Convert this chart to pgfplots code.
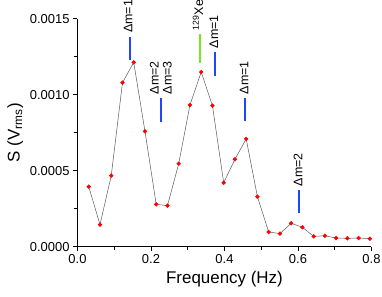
\documentclass[border=0pt]{standalone}
\usepackage{fontspec}
\setmainfont{Liberation Sans}
\usepackage{pgfplots}
\pgfplotsset{compat=1.18}
\definecolor{annblue}{RGB}{30,70,255}
\definecolor{anngreen}{RGB}{120,230,30}
\definecolor{ptred}{RGB}{255,0,0}
\begin{document}
\begin{tikzpicture}
\begin{axis}[
  scale only axis,
  width=294bp, height=228bp,
  at={(0,0)}, anchor=south west,
  xmin=0, xmax=0.8, ymin=0, ymax=0.0015,
  axis x line*=bottom, axis y line*=left,
  axis line style={-, black, line width=0.6pt},
  xtick={0,0.2,0.4,0.6,0.8},
  minor xtick={0.1,0.3,0.5,0.7},
  ytick={0,0.0005,0.001,0.0015},
  minor ytick={0.00025,0.00075,0.00125},
  tick align=outside,
  major tick length=4.5bp, minor tick length=3bp,
  every tick/.style={black, line width=0.6pt},
  scaled y ticks=false, scaled x ticks=false,
  /pgf/number format/assume math mode=true,
  xticklabel style={/pgf/number format/.cd, fixed, fixed zerofill, precision=1},
  yticklabel style={/pgf/number format/.cd, fixed, fixed zerofill, precision=4},
  tick label style={font=\fontsize{13}{15}\selectfont},
  label style={font=\fontsize{17}{19}\selectfont},
  xlabel={Frequency (Hz)},
  ylabel={S (V\textsubscript{rms})},
  clip=false,
]
\addplot[color=black!65, line width=0.5pt, mark=*, mark size=1.9pt,
  mark options={fill=ptred, draw=ptred}] coordinates {
(0.0306,0.000395)
(0.0612,0.000145)
(0.0918,0.000467)
(0.1224,0.001079)
(0.1530,0.001213)
(0.1836,0.000759)
(0.2142,0.000279)
(0.2448,0.000270)
(0.2754,0.000546)
(0.3060,0.000932)
(0.3366,0.001149)
(0.3672,0.000928)
(0.3978,0.000421)
(0.4284,0.000575)
(0.4590,0.000709)
(0.4896,0.000329)
(0.5202,0.000097)
(0.5508,0.000086)
(0.5814,0.000154)
(0.6120,0.000128)
(0.6426,0.000068)
(0.6732,0.000072)
(0.7038,0.000057)
(0.7344,0.000055)
(0.7650,0.000057)
(0.7956,0.000053)
};
% annotation bars
\draw[annblue, line width=1.6pt] (axis cs:0.143,0.001228) -- (axis cs:0.143,0.00138);
\draw[annblue, line width=1.6pt] (axis cs:0.227,0.00082) -- (axis cs:0.227,0.000978);
\draw[anngreen, line width=1.6pt] (axis cs:0.333,0.001208) -- (axis cs:0.333,0.001399);
\draw[annblue, line width=1.6pt] (axis cs:0.374,0.001123) -- (axis cs:0.374,0.00128);
\draw[annblue, line width=1.6pt] (axis cs:0.456,0.000827) -- (axis cs:0.456,0.000978);
\draw[annblue, line width=1.6pt] (axis cs:0.603,0.000222) -- (axis cs:0.603,0.000373);
% labels
\begin{scope}[every node/.style={font=\fontsize{12.5}{13}\selectfont, rotate=90, anchor=west, inner sep=0pt}]
\node at (axis cs:0.138,0.001405) {Δm=1};
\node[align=left] at (axis cs:0.227,0.001003) {Δm=2\\Δm=3};
\node at (axis cs:0.328,0.001424) {\textsuperscript{129}Xe};
\node at (axis cs:0.371,0.001305) {Δm=1};
\node at (axis cs:0.453,0.001003) {Δm=1};
\node at (axis cs:0.600,0.000398) {Δm=2};
\end{scope}
\end{axis}
\pgfresetboundingbox
\useasboundingbox (-77.5bp,-50.3bp) rectangle (304.5bp,246.7bp);
\end{tikzpicture}
\end{document}
